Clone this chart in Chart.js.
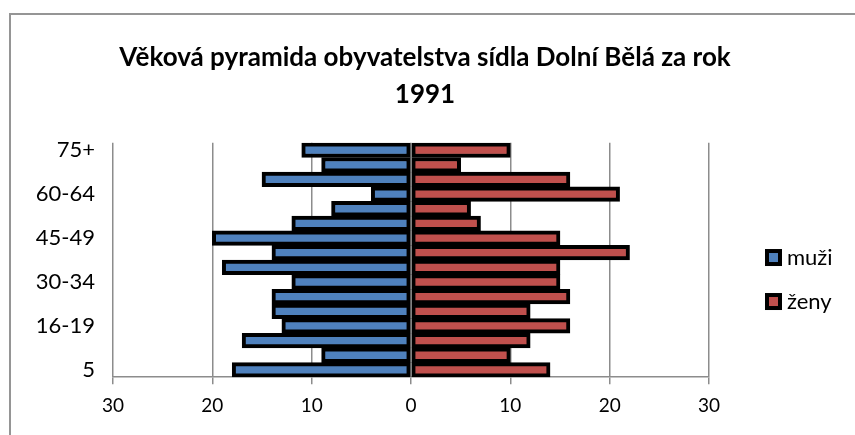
<!DOCTYPE html>
<html>
<head>
<meta charset="utf-8">
<script src="https://cdn.jsdelivr.net/npm/chart.js@4"></script>
<style>
  body { margin: 0; background: #fff; }
  #box { position: absolute; left: 9px; top: 13px; width: 860px; height: 440px; border: 2px solid #959595; box-sizing: border-box; }
  #wrap { position: absolute; left: 11px; top: 15px; width: 844px; height: 420px; }
</style>
</head>
<body>
<div id="box"></div>
<div id="wrap"><canvas id="myChart"></canvas></div>
<script>
const ageGroups = ['5', '5-9', '10-14', '16-19', '20-24', '25-29', '30-34', '35-39', '40-44', '45-49', '50-54', '55-59', '60-64', '65-69', '70-74', '75+'];
const muzi = [18, 9, 17, 13, 14, 14, 12, 19, 14, 20, 12, 8, 4, 15, 9, 11];
const zeny = [14, 10, 12, 16, 12, 16, 15, 15, 22, 15, 7, 6, 21, 16, 5, 10];
const xTicks = [-30, -20, -10, 0, 10, 20, 30];

Chart.defaults.font.family = 'Lato, "Noto Sans", sans-serif';
Chart.defaults.color = '#000';

// legend drawn to the right of the plot, Excel style
const sideLegend = {
    id: 'sideLegend',
    afterDraw(chart) {
        const c = chart.ctx;
        const area = chart.chartArea;
        const mid = (area.top + area.bottom) / 2;
        c.save();
        c.font = '22px Lato, "Noto Sans", sans-serif';
        c.textBaseline = 'middle';
        c.fillStyle = '#000';
        chart.data.datasets.forEach((ds, i) => {
            const x = area.right + 56;
            const y = mid - 3 + i * 44;
            c.fillStyle = '#000';
            c.fillRect(x, y - 8, 17, 17);
            c.fillStyle = ds.backgroundColor;
            c.fillRect(x + 4, y - 4, 9, 9);
            c.fillStyle = '#000';
            c.fillText(ds.label, x + 22, y + 1);
        });
        c.restore();
    }
};

const ctx = document.getElementById('myChart').getContext('2d');
var graphData = {
    type: 'bar',
    data: {
        labels: ageGroups,
        datasets: [{
            label: 'muži',
            data: muzi.map(v => -v),
            backgroundColor: '#4f81bd',
            borderColor: '#000',
            borderWidth: 4,
            borderSkipped: false
        }, {
            label: 'ženy',
            data: zeny,
            backgroundColor: '#c0504d',
            borderColor: '#000',
            borderWidth: 4,
            borderSkipped: false
        }]
    },
    options: {
        indexAxis: 'y',
        responsive: true,
        maintainAspectRatio: false,
        animation: false,
        layout: { padding: { left: 0, right: 16, bottom: 8 } },
        datasets: { bar: { categoryPercentage: 1, barPercentage: 1 } },
        scales: {
            x: {
                stacked: true,
                min: -30,
                max: 30,
                afterBuildTicks: s => { s.ticks = xTicks.map(v => ({ value: v })); },
                ticks: {
                    font: { size: 19 },
                    padding: 10,
                    callback: v => Math.abs(v)
                },
                grid: { color: '#8c8c8c', lineWidth: 1.5, tickLength: 7 },
                border: { color: '#8c8c8c', width: 1.5 }
            },
            y: {
                stacked: true,
                reverse: true,
                afterFit: s => { s.width = 102; },
                ticks: {
                    autoSkip: false,
                    font: { size: 22 },
                    padding: 10,
                    callback: function (v, i) { return i % 3 === 0 ? this.getLabelForValue(v) : ''; }
                },
                grid: { display: false },
                border: { display: false }
            },
            legendSpace: {
                type: 'linear',
                position: 'right',
                afterFit: s => { s.width = 130; },
                ticks: { display: false },
                grid: { display: false },
                border: { display: false }
            }
        },
        plugins: {
            title: {
                display: true,
                text: ['Věková pyramida obyvatelstva sídla Dolní Bělá za rok', '1991'],
                font: { size: 26, weight: 'bold', lineHeight: 1.42 },
                padding: { top: 24, bottom: 30 }
            },
            legend: { display: false },
            tooltip: { enabled: false }
        }
    },
    plugins: [sideLegend]
};
const myChart = new Chart(ctx, graphData);
</script>
</body>
</html>
